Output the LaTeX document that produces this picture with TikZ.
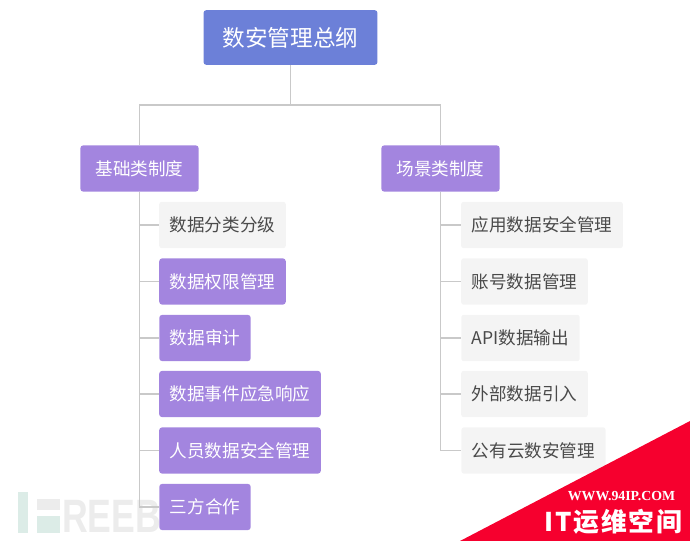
\documentclass[tikz,border=0pt]{standalone}
\usepackage{fontspec}
\setmainfont{Noto Sans CJK SC}
\newfontfamily\markfont{Liberation Sans}
\newfontfamily\siteFont{Liberation Serif}
\definecolor{rootblue}{HTML}{6C80D8}
\definecolor{classpurple}{HTML}{A385DF}
\definecolor{leafgray}{HTML}{F4F4F4}
\definecolor{linegray}{HTML}{C9C9C9}
\definecolor{inkgray}{HTML}{4A4A4A}
\definecolor{stampred}{HTML}{F6002E}
\definecolor{markmint}{HTML}{DCECE7}
\definecolor{markgray}{HTML}{ECECEC}
\tikzset{
  rootbox/.style={fill=rootblue,text=white,rounded corners=2.5pt,minimum width=148.5pt,minimum height=46.8pt,font=\fontsize{19.3}{22}\selectfont,inner sep=0pt},
  classbox/.style={fill=classpurple,text=white,rounded corners=2.5pt,minimum height=39.5pt,font=\fontsize{15}{18}\selectfont,inner sep=0pt},
  leafbox/.style={fill=leafgray,text=inkgray,rounded corners=2pt,minimum height=39.5pt,font=\fontsize{15}{18}\selectfont,inner sep=0pt},
  link/.style={draw=linegray,line width=1.1pt},
}
\begin{document}
\begin{tikzpicture}[x=0.03cm,y=-0.03cm]
  \useasboundingbox (0,0) rectangle (690,541);
  % watermark
  \fill[markmint] (18,492) rectangle (28,533);
  \fill[markgray] (37,499) rectangle (60,510);
  \fill[markmint] (37,516) rectangle (60,533);
  \node[text=markgray,anchor=west,inner sep=0pt,xscale=0.76] (brand) at (62,516) {\markfont\bfseries\fontsize{40}{44}\selectfont REEB};
  % top
  \node[rootbox] (root) at (290.5,37.5) {数安管理总纲};
  \node[classbox,minimum width=101pt] (base) at (139.5,168.5) {基础类制度};
  \node[classbox,minimum width=101pt] (scene) at (440.5,168.5) {场景类制度};
  % left column
  \node[leafbox,minimum width=108pt] (grade) at (222.5,225) {数据分类分级};
  \node[classbox,minimum width=108pt] (perm) at (222.5,281.5) {数据权限管理};
  \node[classbox,minimum width=78pt] (audit) at (205,338) {数据审计};
  \node[classbox,minimum width=138pt] (event) at (240,394) {数据事件应急响应};
  \node[classbox,minimum width=138pt] (staff) at (240,450.5) {人员数据安全管理};
  \node[classbox,minimum width=78pt] (third) at (205,507) {三方合作};
  % right column
  \node[leafbox,minimum width=138pt] (app) at (542,225) {应用数据安全管理};
  \node[leafbox,minimum width=108pt] (acct) at (524.5,281.5) {账号数据管理};
  \node[leafbox,minimum width=101pt] (api) at (520.5,338) {API数据输出};
  \node[leafbox,minimum width=108pt] (ext) at (524.5,394) {外部数据引入};
  \node[leafbox,minimum width=123pt] (cloud) at (533.5,450.5) {公有云数安管理};
  % links
  \coordinate (fork) at (290.5,105);
  \draw[link,line width=1.6pt] (root) -- (fork);
  \draw[link] (base) |- (fork) -| (scene);
  \foreach \leaf in {grade,perm,audit,event,staff,third}
    \draw[link] (base.south) |- (\leaf.west);
  \foreach \leaf in {app,acct,api,ext,cloud}
    \draw[link] (scene.south) |- (\leaf.west);
  % corner stamp
  \fill[stampred] (690,421) -- (460,541) -- (690,541) -- cycle;
  \node[text=white,inner sep=0pt] (site) at (621.5,496) {\siteFont\bfseries\fontsize{11.8}{13}\selectfont WWW.94IP.COM};
  \node[text=white,inner sep=0pt] (stamp) at (613.5,522) {\fontsize{22}{26}\selectfont\bfseries I\kern1.5pt T\kern1.5pt 运\kern1.5pt 维\kern1.5pt 空\kern1.5pt 间};
\end{tikzpicture}
\end{document}
